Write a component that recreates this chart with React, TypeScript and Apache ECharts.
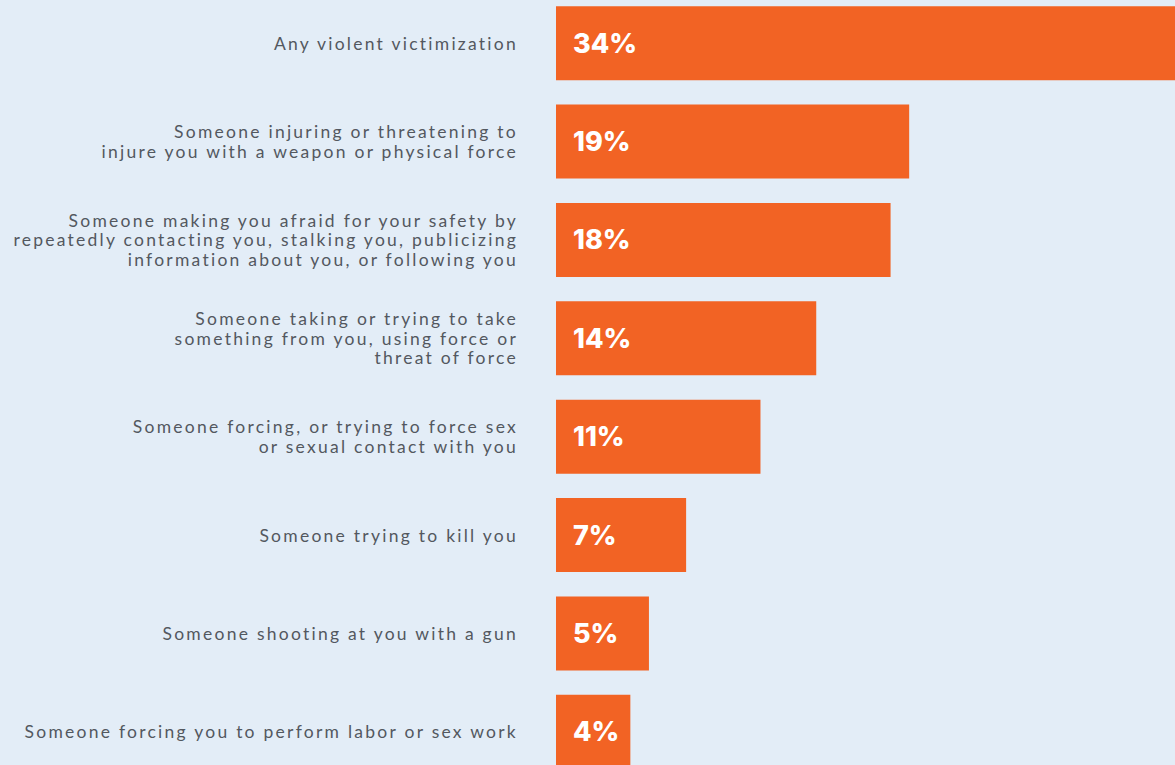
import React, { useEffect, useRef } from "react";
import * as echarts from "echarts";

const categories: string[] = [
  "Any violent victimization",
  "Someone injuring or threatening to\ninjure you with a weapon or physical force",
  "Someone making you afraid for your safety by\nrepeatedly contacting you, stalking you, publicizing\ninformation about you, or following you",
  "Someone taking or trying to take\nsomething from you, using force or\nthreat of force",
  "Someone forcing, or trying to force sex\nor sexual contact with you",
  "Someone trying to kill you",
  "Someone shooting at you with a gun",
  "Someone forcing you to perform labor or sex work",
];

const values: number[] = [34, 19, 18, 14, 11, 7, 5, 4];

const LETTER_SPACING = 2.25;

export default function App() {
  const ref = useRef<HTMLDivElement>(null);
  useEffect(() => {
    document.body.style.overflow = "hidden";
    document.body.style.background = "#e3edf7";
    if (!ref.current) return;
    const chart = echarts.init(ref.current, undefined, { renderer: "svg" });
    chart.setOption({
      animation: false,
      backgroundColor: "#e3edf7",
      grid: { left: 556, right: 0, top: 0, bottom: 0, containLabel: false },
      xAxis: {
        type: "value",
        min: 0,
        max: 34,
        show: false,
      },
      yAxis: {
        type: "category",
        data: categories,
        inverse: true,
        axisLine: { show: false },
        axisTick: { show: false },
        splitLine: { show: false },
        axisLabel: {
          margin: 38,
          align: "right",
          color: "#53585f",
          fontFamily: "Lato",
          fontSize: 17.5,
          lineHeight: 19.5,
        },
      },
      series: [
        {
          type: "bar",
          data: values,
          barWidth: 74,
          itemStyle: { color: "#f26324" },
          label: {
            show: true,
            position: "insideLeft",
            distance: 17,
            formatter: "{c}%",
            color: "#ffffff",
            fontFamily: "Inter",
            fontWeight: 800,
            fontSize: 27,
          },
        },
      ],
    });
    const texts = ref.current.querySelectorAll("svg text");
    texts.forEach((t) => {
      const s = t.textContent || "";
      if (!s.endsWith("%")) {
        (t as SVGTextElement).style.letterSpacing = LETTER_SPACING + "px";
      }
    });
    return () => chart.dispose();
  }, []);
  return (
    <div
      ref={ref}
      style={{ position: "fixed", left: 0, top: -6, width: 1188, height: 787 }}
    />
  );
}
